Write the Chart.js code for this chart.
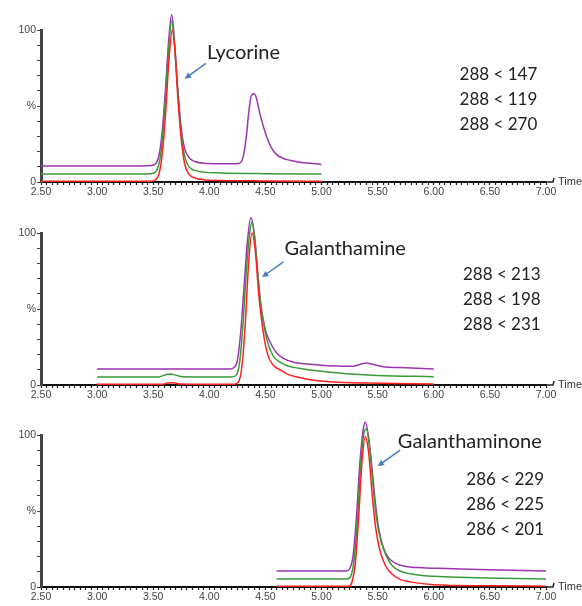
<!DOCTYPE html>
<html>
<head>
<meta charset="utf-8">
<script src="https://cdn.jsdelivr.net/npm/chart.js@4/dist/chart.umd.min.js"></script>
<style>
  html, body { margin: 0; padding: 0; background: #fff; }
  #wrap { position: relative; width: 582px; height: 606px; }
  #wrap canvas { position: absolute; left: 0; }
</style>
</head>
<body>
<div id="wrap">
  <canvas id="c1" width="582" height="200" style="top:0px"></canvas>
  <canvas id="c2" width="582" height="200" style="top:203px"></canvas>
  <canvas id="c3" width="582" height="200" style="top:405px"></canvas>
</div>
<script>
// compound names and MRM transitions (one panel each)
const compoundNames = ['Lycorine', 'Galanthamine', 'Galanthaminone'];
const transitions = [
    ['288 < 147', '288 < 119', '288 < 270'],
    ['288 < 213', '288 < 198', '288 < 231'],
    ['286 < 229', '286 < 225', '286 < 201']
];
const seriesColors = ['#9b35ad', '#3a9a3a', '#ff1f1f'];

// retention time (min), relative intensity (%)
const lycPurple = [[2.50,10.5],[3.40,10.5],[3.48,10.8],[3.52,12],[3.55,17],[3.58,33],[3.61,62],[3.64,95],[3.665,110],[3.69,92],[3.72,60],[3.75,35],[3.78,22],[3.82,16],[3.87,13.5],[3.95,12.3],[4.10,12],[4.26,12.2],[4.30,16],[4.33,30],[4.35,45],[4.375,57],[4.40,58],[4.42,55],[4.45,45],[4.48,37],[4.51,30],[4.55,23],[4.60,18],[4.66,15.5],[4.72,14.3],[4.80,13],[4.90,12.3],[5.00,11.5]];
const lycGreen = [[2.50,5.3],[3.45,5.3],[3.50,5.8],[3.54,9],[3.57,20],[3.60,45],[3.63,80],[3.665,106],[3.69,90],[3.72,58],[3.75,32],[3.78,17],[3.82,10],[3.88,7.5],[3.95,6.5],[4.10,6],[4.50,5.5],[5.00,5.2]];
const lycRed = [[2.50,0.5],[3.48,0.5],[3.52,1.5],[3.55,5],[3.58,18],[3.61,45],[3.64,80],[3.67,100],[3.695,85],[3.72,55],[3.75,28],[3.78,12],[3.82,5],[3.88,2.5],[3.95,1.5],[4.10,1],[4.50,0.7],[5.00,0.5]];

const galPurple = [[3.00,10.5],[4.18,10.5],[4.22,11.5],[4.25,16],[4.28,35],[4.31,65],[4.34,95],[4.37,110],[4.40,100],[4.43,75],[4.46,52],[4.50,36],[4.55,27],[4.60,21],[4.66,17.5],[4.75,15],[4.85,14],[5.00,13],[5.15,12.5],[5.28,12.3],[5.34,13.5],[5.40,14.5],[5.46,13.5],[5.55,12],[5.70,11.5],[5.85,11],[6.00,10.5]];
const galGreen = [[3.00,5.3],[3.55,5.3],[3.60,6.5],[3.65,7.3],[3.70,6.5],[3.76,5.5],[4.20,5.3],[4.24,6.5],[4.27,15],[4.30,40],[4.33,75],[4.36,100],[4.38,107],[4.41,92],[4.44,65],[4.48,42],[4.52,28],[4.57,19],[4.63,15],[4.70,12.5],[4.80,11],[5.00,9],[5.20,7.5],[5.50,6.3],[6.00,5.5]];
const galRed = [[3.00,0.5],[3.58,0.5],[3.63,1.3],[3.68,1.5],[3.73,0.7],[4.22,0.5],[4.26,2],[4.29,12],[4.32,40],[4.35,80],[4.38,100],[4.41,88],[4.44,60],[4.48,35],[4.52,20],[4.57,13],[4.63,10],[4.70,7],[4.80,5],[4.95,3],[5.10,2],[5.40,1.3],[6.00,0.7]];

const ginPurple = [[4.60,10.5],[5.22,10.5],[5.25,12],[5.28,20],[5.31,45],[5.34,80],[5.37,103],[5.39,108.5],[5.42,98],[5.45,78],[5.48,55],[5.51,38],[5.55,26],[5.60,19],[5.66,15.5],[5.75,13.5],[5.90,12.7],[6.10,12.2],[6.40,11.5],[6.70,11],[7.00,10.5]];
const ginGreen = [[4.60,5.3],[5.23,5.3],[5.26,7],[5.29,18],[5.32,45],[5.35,82],[5.38,102],[5.40,104],[5.43,90],[5.46,66],[5.49,45],[5.53,30],[5.58,20],[5.63,14],[5.70,10.5],[5.80,8.5],[6.00,7],[6.30,6.2],[6.60,5.7],[7.00,5.2]];
const ginRed = [[4.60,0.5],[5.24,0.5],[5.27,3],[5.30,15],[5.33,45],[5.36,82],[5.39,99],[5.42,88],[5.45,62],[5.48,40],[5.52,24],[5.57,14],[5.62,9],[5.70,5],[5.80,3.2],[6.00,1.5],[6.50,0.8],[7.00,0.5]];

const panelSeries = [
    [lycPurple, lycGreen, lycRed],
    [galPurple, galGreen, galRed],
    [ginPurple, ginGreen, ginRed]
];

// where the labels sit, in axis units (time, %)
const namePos  = [[3.98, 85], [4.67, 89.5], [5.68, 95.4]];
const arrowPos = [[[3.97, 78], [3.78, 68]], [[4.66, 81], [4.47, 71]], [[5.70, 90], [5.50, 79.5]]];
const transPos = [[6.23, 71], [6.26, 73], [6.29, 71]];

const notesPlugin = {
    id: 'notes',
    afterDraw(chart) {
        const i = chart.options.plugins.notes.panel;
        const { ctx, chartArea, scales: { x, y } } = chart;
        ctx.save();
        ctx.fillStyle = '#222';
        ctx.textAlign = 'left';
        ctx.textBaseline = 'middle';

        // compound name + blue arrow pointing at the peak
        ctx.font = '20px Lato';
        ctx.fillText(compoundNames[i], x.getPixelForValue(namePos[i][0]), y.getPixelForValue(namePos[i][1]));
        const a = arrowPos[i];
        const x0 = x.getPixelForValue(a[0][0]), y0 = y.getPixelForValue(a[0][1]);
        const x1 = x.getPixelForValue(a[1][0]), y1 = y.getPixelForValue(a[1][1]);
        const ang = Math.atan2(y1 - y0, x1 - x0);
        ctx.strokeStyle = '#4a7ebb';
        ctx.fillStyle = '#4a7ebb';
        ctx.lineWidth = 1.5;
        ctx.beginPath();
        ctx.moveTo(x0, y0);
        ctx.lineTo(x1 - 4 * Math.cos(ang), y1 - 4 * Math.sin(ang));
        ctx.stroke();
        ctx.beginPath();
        ctx.moveTo(x1, y1);
        ctx.lineTo(x1 - 7 * Math.cos(ang - 0.45), y1 - 7 * Math.sin(ang - 0.45));
        ctx.lineTo(x1 - 7 * Math.cos(ang + 0.45), y1 - 7 * Math.sin(ang + 0.45));
        ctx.closePath();
        ctx.fill();

        // transition list
        ctx.fillStyle = '#222';
        ctx.font = '17px Lato';
        const tx = x.getPixelForValue(transPos[i][0]);
        const ty = y.getPixelForValue(transPos[i][1]);
        transitions[i].forEach((t, k) => ctx.fillText(t, tx, ty + k * 25));

        // axis end hook and "Time" caption
        const r = chartArea.right, b = chartArea.bottom;
        ctx.strokeStyle = '#222';
        ctx.lineWidth = 1.5;
        ctx.beginPath();
        ctx.moveTo(r, b);
        ctx.lineTo(r + 7, b);
        ctx.lineTo(r + 8, b - 4);
        ctx.stroke();
        ctx.fillStyle = '#333';
        ctx.font = '11px "Liberation Sans"';
        ctx.fillText('Time', r + 12, b);
        ctx.restore();
    }
};

function isHalf(v) {
    return Math.abs(v * 2 - Math.round(v * 2)) < 1e-6;
}

function makePanel(id, i) {
    const datasets = panelSeries[i].map((pts, k) => ({
        data: pts.map(p => ({ x: p[0], y: p[1] })),
        borderColor: seriesColors[k],
        borderWidth: 1.5,
        pointRadius: 0,
        cubicInterpolationMode: 'monotone',
        clip: false,
        order: 3 - k
    }));
    return new Chart(document.getElementById(id), {
        type: 'line',
        data: { datasets },
        plugins: [notesPlugin],
        options: {
            responsive: false,
            animation: false,
            layout: { padding: { top: 30, right: 36, bottom: 0, left: 0 } },
            plugins: {
                legend: { display: false },
                tooltip: { enabled: false },
                notes: { panel: i }
            },
            scales: {
                x: {
                    type: 'linear',
                    min: 2.5,
                    max: 7.0,
                    afterFit: (s) => { s.height = 18; },
                    afterBuildTicks: (s) => {
                        const t = [];
                        for (let k = 0; k <= 90; k++) t.push({ value: 2.5 + k * 0.05 });
                        s.ticks = t;
                    },
                    ticks: {
                        autoSkip: false,
                        maxRotation: 0,
                        padding: 1,
                        color: '#444',
                        font: { family: 'Liberation Sans', size: 10.5 },
                        callback: (v) => isHalf(v) ? v.toFixed(2) : ''
                    },
                    grid: { drawOnChartArea: false, tickLength: 3, color: '#222', tickWidth: 1.2 },
                    border: { color: '#111', width: 2 }
                },
                y: {
                    min: 0,
                    max: 100,
                    afterFit: (s) => { s.width = 41; },
                    ticks: {
                        stepSize: 10,
                        autoSkip: false,
                        padding: 1,
                        color: '#444',
                        font: { family: 'Liberation Sans', size: 10.5 },
                        callback: (v) => v === 100 ? '100' : v === 50 ? '%' : v === 0 ? '0' : ''
                    },
                    grid: { drawOnChartArea: false, tickLength: 4, color: '#444' },
                    border: { color: '#444', width: 3 }
                }
            }
        }
    });
}

makePanel('c1', 0);
makePanel('c2', 1);
makePanel('c3', 2);
</script>
</body>
</html>
